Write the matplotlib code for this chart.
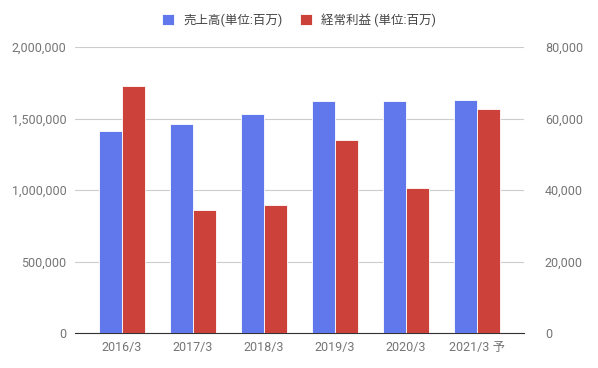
import matplotlib.pyplot as plt
import numpy as np
from matplotlib.ticker import FuncFormatter

plt.rcParams['font.family'] = ['Roboto', 'Noto Sans CJK JP', 'DejaVu Sans']

years = ['2016/3', '2017/3', '2018/3', '2019/3', '2020/3', '2021/3 予']
sales = [1413000, 1462000, 1531000, 1622000, 1622000, 1629000]
profit = [69100, 34400, 35800, 54000, 40600, 62700]

blue = '#6078ec'
red = '#cc4139'
gray = '#757575'

fig = plt.figure(figsize=(5.98, 3.68), dpi=100)
ax = fig.add_axes([75/598, 1-333/368, 449/598, 286/368])
ax2 = ax.twinx()

x = np.arange(len(years))
w = 0.325
ax.bar(x - w/2, sales, w, color=blue, edgecolor='white', linewidth=0.6,
       label='売上高(単位:百万)', zorder=3)
ax2.bar(x + w/2, profit, w, color=red, edgecolor='white', linewidth=0.6,
        label='経常利益 (単位:百万)', zorder=3)

ax.set_xlim(-0.66, 5.66)
ax.set_ylim(0, 2000000)
ax2.set_ylim(0, 80000)
ax.set_yticks(np.arange(0, 2000001, 500000))
ax2.set_yticks(np.arange(0, 80001, 20000))
fmt = FuncFormatter(lambda v, p: f'{int(v):,}')
ax.yaxis.set_major_formatter(fmt)
ax2.yaxis.set_major_formatter(fmt)

ax.set_xticks(x)
ax.set_xticklabels(years)
ax.grid(axis='y', color='#cccccc', linewidth=0.8, zorder=0)
ax.set_axisbelow(True)

for a in (ax, ax2):
    for s in a.spines.values():
        s.set_visible(False)
    a.tick_params(length=0, labelsize=9, colors=gray, pad=6)
ax2.tick_params(axis='y', pad=15)
ax.spines['bottom'].set_visible(True)
ax.spines['bottom'].set_color('#333333')

h1, l1 = ax.get_legend_handles_labels()
h2, l2 = ax2.get_legend_handles_labels()
fig.legend(h1 + h2, l1 + l2, loc='center', bbox_to_anchor=(0.5, 1-20/368), ncol=2,
           frameon=False, fontsize=9, labelcolor='#444444', handlelength=1.0,
           handleheight=1.0, columnspacing=1.4, handletextpad=0.7)

fig.savefig('out.png', dpi=100)
